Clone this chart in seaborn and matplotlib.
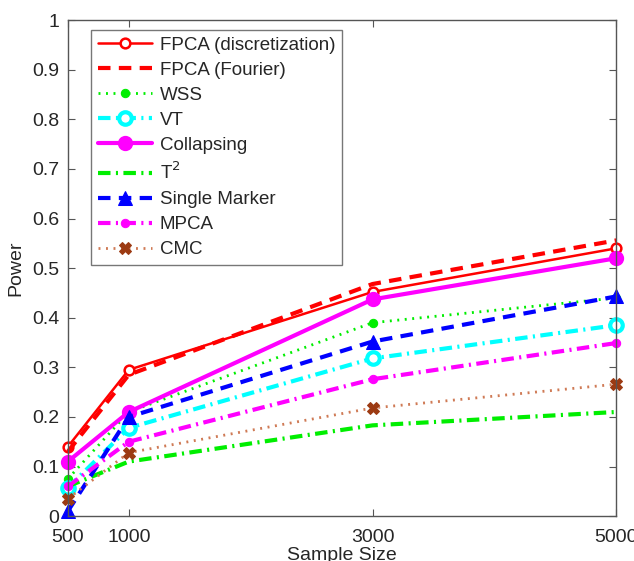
import matplotlib
matplotlib.use("Agg")
import matplotlib.pyplot as plt
import seaborn as sns
import pandas as pd

sns.set_style("ticks")
plt.rcParams['font.family'] = ['Liberation Sans', 'DejaVu Sans']

sizes = [500, 1000, 3000, 5000]
fpca_disc = [0.14, 0.295, 0.452, 0.54]
fpca_fourier = [0.13, 0.285, 0.468, 0.556]
wss = [0.075, 0.21, 0.39, 0.44]
vt = [0.057, 0.178, 0.318, 0.385]
collapsing = [0.11, 0.21, 0.437, 0.52]
t2 = [0.06, 0.11, 0.183, 0.21]
single_marker = [0.01, 0.2, 0.352, 0.443]
mpca = [0.06, 0.15, 0.276, 0.349]
cmc = [0.035, 0.128, 0.218, 0.266]

series = [
    ("FPCA (discretization)", fpca_disc, dict(color="#ff0000", lw=1.8, ls="-", marker="o", ms=7,
                                             mfc="white", mec="#ff0000", mew=1.8)),
    ("FPCA (Fourier)", fpca_fourier, dict(color="#ff0000", lw=3, dashes=(3, 2))),
    ("WSS", wss, dict(color="#00ee00", lw=2.0, dashes=(0.7, 2.0), marker="o", ms=6,
                      mfc="#00ee00", mec="#00ee00")),
    ("VT", vt, dict(color="#00ffff", lw=3, dashes=(3, 1.3, 0.5, 1.3), marker="o", ms=9,
                    mfc="white", mec="#00ffff", mew=3)),
    ("Collapsing", collapsing, dict(color="#ff00ff", lw=3, ls="-", marker="o", ms=9,
                                    mfc="#ff00ff", mec="#ff00ff", mew=2)),
    ("T$^2$", t2, dict(color="#00ee00", lw=3, dashes=(3, 1.3, 0.5, 1.3))),
    ("Single Marker", single_marker, dict(color="#0000ff", lw=3, dashes=(3, 2), marker="^", ms=10,
                                          mfc="#0000ff", mec="#0000ff")),
    ("MPCA", mpca, dict(color="#ff00ff", lw=3, dashes=(3, 1.3, 0.5, 1.3), marker="o", ms=6,
                        mfc="#ff00ff", mec="#ff00ff")),
    ("CMC", cmc, dict(color="#cf7a55", lw=2.0, dashes=(0.7, 2.0), marker="X", ms=9,
                      mfc="#9c3a12", mec="#9c3a12")),
]

fig = plt.figure(figsize=(6.34, 5.61), dpi=100)
ax = fig.add_axes([0.107, 0.08, 0.865, 0.884])

for name, vals, kw in series:
    df = pd.DataFrame({"size": sizes, "power": vals})
    sns.lineplot(data=df, x="size", y="power", ax=ax, label=name, clip_on=False, **kw)

ax.set_xlim(500, 5000)
ax.set_ylim(0, 1)
ax.set_xticks(sizes)
ax.set_xticklabels([str(s) for s in sizes])
yt = [i / 10 for i in range(11)]
ax.set_yticks(yt)
ax.set_yticklabels(["0"] + [f"{v:.1f}" for v in yt[1:-1]] + ["1"])
ax.tick_params(direction="in", length=5, width=0.8, color="#555555", labelsize=14,
               top=True, right=True)
ax.tick_params(axis="x", pad=9)
ax.tick_params(axis="y", pad=6)
for sp in ax.spines.values():
    sp.set_visible(True)
    sp.set_color("#555555")
    sp.set_linewidth(1.0)
ax.set_xlabel("Sample Size", fontsize=14, labelpad=1)
ax.set_ylabel("Power", fontsize=14, labelpad=6)

leg = ax.legend(loc="upper left", bbox_to_anchor=(0.043, 0.98), fontsize=13.5, frameon=True,
                fancybox=False, handlelength=2.9, handletextpad=0.4, labelspacing=0.42,
                borderpad=0.35, borderaxespad=0)
leg.get_frame().set_edgecolor("#555555")
leg.get_frame().set_linewidth(1.0)

fig.savefig("out.png", dpi=100)
